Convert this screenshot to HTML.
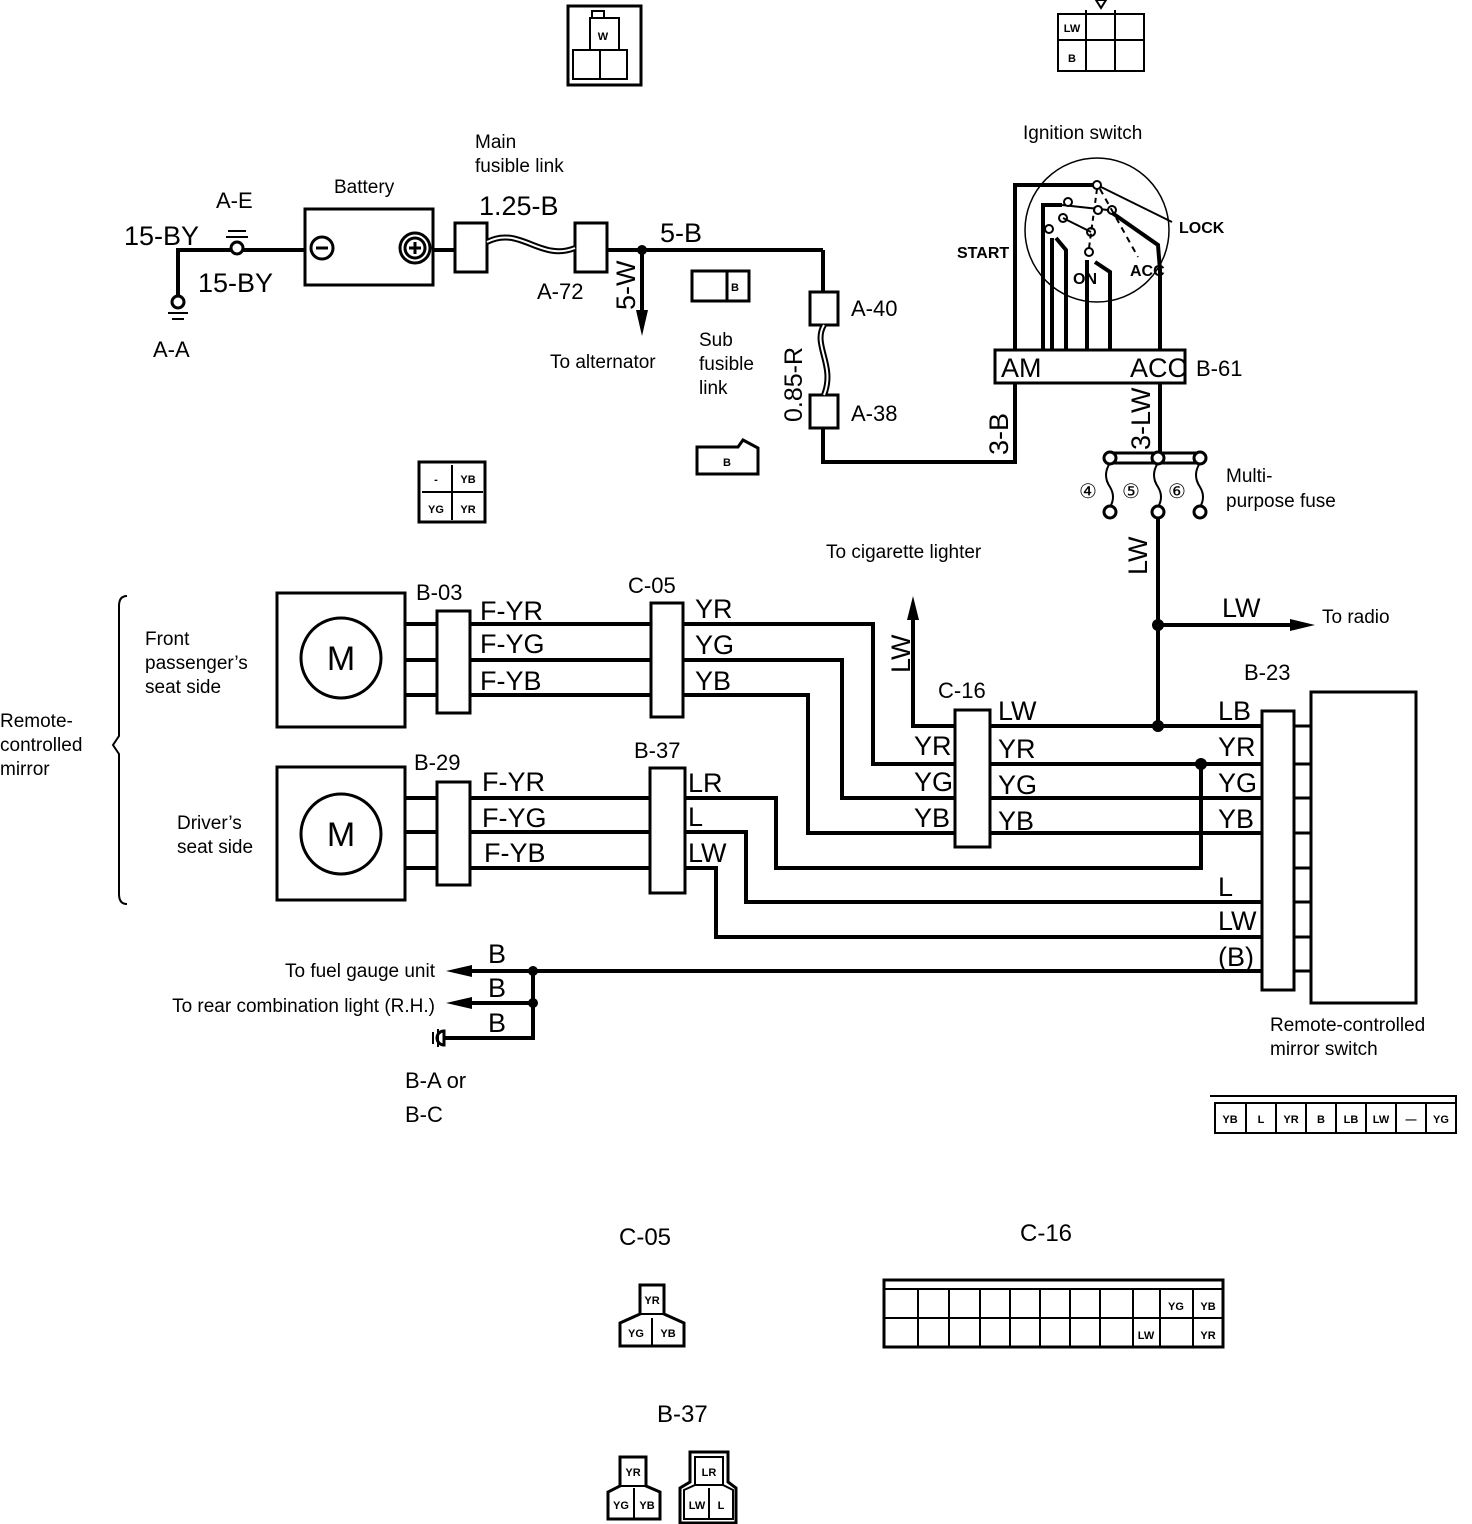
<!DOCTYPE html>
<html><head><style>
html,body{margin:0;padding:0;background:#fff}
svg{display:block}
text{font-family:"Liberation Sans",sans-serif;fill:#000}
.w{font-size:27px}
.s{font-size:19px}
.t{font-size:11px;font-weight:bold}
</style></head><body>
<svg width="1472" height="1524" viewBox="0 0 1472 1524" xmlns="http://www.w3.org/2000/svg">
<g fill="none" stroke="#000" stroke-width="4">
<polyline points="178,300 178,250 305,250"/>
<line x1="433" y1="250" x2="455" y2="250"/>
<line x1="607" y1="250" x2="823" y2="250"/>
<polyline points="823,250 823,292"/>
<line x1="642" y1="250" x2="642" y2="312"/>
<polyline points="823,428 823,462 1015,462 1015,185 1097,185"/>
<line x1="1160" y1="383" x2="1160" y2="458"/>
<polyline points="1043,350 1043,205 1062,205"/>
<line x1="1052" y1="238" x2="1052" y2="350"/>
<polyline points="1056,238 1066,250 1066,350"/>
<line x1="1087" y1="260" x2="1087" y2="350"/>
<polyline points="1095,262 1110,272 1110,350"/>
<polyline points="1108,210 1158,245 1160,270 1160,350"/>
<line x1="1158" y1="512" x2="1158" y2="726"/>
<line x1="1158" y1="625" x2="1298" y2="625"/>
<line x1="405" y1="624" x2="651" y2="624"/><line x1="405" y1="660" x2="651" y2="660"/><line x1="405" y1="695" x2="651" y2="695"/>
<line x1="405" y1="798" x2="650" y2="798"/><line x1="405" y1="832" x2="650" y2="832"/><line x1="405" y1="868" x2="650" y2="868"/>
<polyline points="683,624 873,624 873,764 955,764"/>
<polyline points="683,660 842,660 842,798 955,798"/>
<polyline points="683,695 808,695 808,833 955,833"/>
<polyline points="913,615 913,726 955,726"/>
<line x1="990" y1="726" x2="1262" y2="726"/>
<line x1="990" y1="764" x2="1262" y2="764"/>
<line x1="990" y1="798" x2="1262" y2="798"/>
<line x1="990" y1="833" x2="1262" y2="833"/>
<polyline points="1201,764 1201,868 776,868 776,798 685,798"/>
<polyline points="685,832 746,832 746,902 1262,902"/>
<polyline points="685,868 716,868 716,937 1262,937"/>
<line x1="470" y1="971" x2="1262" y2="971"/>
<polyline points="533,971 533,1038 444,1038"/>
<line x1="470" y1="1003" x2="533" y2="1003"/>
<g stroke-width="3">
<line x1="1294" y1="726" x2="1311" y2="726"/><line x1="1294" y1="764" x2="1311" y2="764"/><line x1="1294" y1="798" x2="1311" y2="798"/><line x1="1294" y1="833" x2="1311" y2="833"/><line x1="1294" y1="868" x2="1311" y2="868"/><line x1="1294" y1="902" x2="1311" y2="902"/><line x1="1294" y1="937" x2="1311" y2="937"/><line x1="1294" y1="971" x2="1311" y2="971"/>
</g>
</g>
<g fill="#000">
<polygon points="636,310 648,310 642,336"/>
<polygon points="907,620 919,620 913,596"/>
<polygon points="1290,619 1290,631 1315,625"/>
<polygon points="472,965 472,977 446,971"/>
<polygon points="472,997 472,1009 446,1003"/>
<circle cx="642" cy="250" r="5"/><circle cx="1158" cy="625" r="6"/><circle cx="1158" cy="726" r="6"/><circle cx="1201" cy="764" r="6"/><circle cx="533" cy="971" r="5"/><circle cx="533" cy="1003" r="5"/>
</g>
<g fill="#fff" stroke="#000" stroke-width="3">
<rect x="305" y="209" width="128" height="76"/>
<circle cx="322" cy="248" r="11"/>
<circle cx="415" cy="248" r="15"/><circle cx="415" cy="248" r="10"/>
<rect x="455" y="223" width="32" height="49"/>
<rect x="575" y="223" width="32" height="49"/>
<path d="M487,242 C520,225 540,262 575,248" fill="none" stroke-width="6"/>
<path d="M487,242 C520,225 540,262 575,248" fill="none" stroke="#fff" stroke-width="2"/>
<circle cx="237" cy="248" r="6"/>
<rect x="810" y="292" width="28" height="33"/>
<rect x="810" y="395" width="28" height="33"/>
<path d="M824,325 C812,345 836,365 824,395" fill="none" stroke-width="6"/>
<path d="M824,325 C812,345 836,365 824,395" fill="none" stroke="#fff" stroke-width="2"/>
<rect x="692" y="271" width="57" height="30"/><line x1="727" y1="271" x2="727" y2="301"/>
<path d="M697,447 L738,447 L743,440 L758,448 L758,474 L697,474 Z"/>
<circle cx="1097" cy="230" r="72" fill="none" stroke-width="1.5"/>
<rect x="995" y="350" width="190" height="33"/>
<rect x="1110" y="453" width="90" height="10"/>
<circle cx="1110" cy="458" r="6"/><circle cx="1158" cy="458" r="6"/><circle cx="1200" cy="458" r="6"/>
<circle cx="1110" cy="512" r="6"/><circle cx="1158" cy="512" r="6"/><circle cx="1200" cy="512" r="6"/>
<rect x="277" y="593" width="128" height="134"/><circle cx="341" cy="658" r="40"/>
<rect x="277" y="767" width="128" height="133"/><circle cx="341" cy="834" r="40"/>
<rect x="437" y="611" width="33" height="102"/>
<rect x="651" y="603" width="32" height="114"/>
<rect x="437" y="782" width="33" height="103"/>
<rect x="650" y="768" width="35" height="125"/>
<rect x="955" y="710" width="35" height="137"/>
<rect x="1262" y="711" width="32" height="279"/>
<rect x="1311" y="692" width="105" height="311"/>
<circle cx="178" cy="302" r="6"/>
<path d="M444,1031 a7,7 0 1 0 0,14 z" fill="none"/>
</g>
<g fill="none" stroke="#000" stroke-width="3">
<line x1="316" y1="248" x2="328" y2="248"/>
<line x1="409" y1="248" x2="421" y2="248"/><line x1="415" y1="242" x2="415" y2="254"/>
</g>
<g fill="none" stroke="#000" stroke-width="2">
<line x1="1097" y1="185" x2="1172" y2="222"/>
<line x1="1062" y1="205" x2="1108" y2="210"/>
<circle cx="1097" cy="185" r="4" fill="#fff"/><circle cx="1068" cy="202" r="4" fill="#fff"/><circle cx="1098" cy="210" r="4" fill="#fff"/><circle cx="1112" cy="210" r="4" fill="#fff"/><circle cx="1063" cy="218" r="4" fill="#fff"/><circle cx="1049" cy="229" r="4" fill="#fff"/><circle cx="1091" cy="232" r="4" fill="#fff"/><circle cx="1089" cy="252" r="4" fill="#fff"/>
<line x1="1097" y1="189" x2="1089" y2="248" stroke-dasharray="5,4"/>
<line x1="1100" y1="189" x2="1138" y2="257" stroke-dasharray="6,5"/>
<line x1="1063" y1="218" x2="1091" y2="232"/>
<path d="M127,596 q-8,0 -8,10 v130 l-6,9 6,9 v140 q0,10 8,10"/>
<line x1="228" y1="231" x2="246" y2="231"/><line x1="226" y1="237" x2="248" y2="237"/>
<line x1="168" y1="313" x2="188" y2="313"/><line x1="172" y1="319" x2="184" y2="319"/>
<line x1="433" y1="1032" x2="433" y2="1044"/><line x1="438" y1="1029" x2="438" y2="1047"/>
<path d="M1110,463 q-8,12 0,24 q6,10 0,20"/><path d="M1158,463 q-8,12 0,24 q6,10 0,20"/><path d="M1200,463 q-8,12 0,24 q6,10 0,20"/>
</g>
<g fill="#fff" stroke="#000" stroke-width="2">
<rect x="568" y="6" width="73" height="79" stroke-width="3"/>
<rect x="590" y="18" width="29" height="33"/><rect x="592" y="11" width="12" height="7"/>
<rect x="573" y="50" width="27" height="29"/><rect x="600" y="50" width="27" height="29"/>
<path d="M1058,14 h86 v57 h-86 z"/><line x1="1086" y1="10" x2="1086" y2="71"/><line x1="1115" y1="10" x2="1115" y2="71"/><line x1="1058" y1="40" x2="1144" y2="40"/>
<polygon points="1096,0 1106,0 1101,8"/>
<path d="M419,462 h66 v60 h-66 z" stroke-width="3"/><line x1="452" y1="465" x2="452" y2="520"/><line x1="422" y1="492" x2="483" y2="492"/>
<path d="M1215,1103 h241 v30 h-241 z"/><path d="M1210,1096 h246 v37" fill="none"/>
<line x1="1246" y1="1103" x2="1246" y2="1133"/><line x1="1276" y1="1103" x2="1276" y2="1133"/><line x1="1306" y1="1103" x2="1306" y2="1133"/><line x1="1336" y1="1103" x2="1336" y2="1133"/><line x1="1366" y1="1103" x2="1366" y2="1133"/><line x1="1396" y1="1103" x2="1396" y2="1133"/><line x1="1426" y1="1103" x2="1426" y2="1133"/>
<path d="M640,1285 h24 v29 l20,9 v23 h-64 v-23 l20,-9 z" stroke-width="3"/><line x1="640" y1="1314" x2="664" y2="1314"/><line x1="652" y1="1318" x2="652" y2="1346"/>
<path d="M620,1457 h26 v29 l14,6 v27 h-52 v-27 l12,-6 z" stroke-width="3"/><line x1="620" y1="1486" x2="646" y2="1486"/><line x1="634" y1="1488" x2="634" y2="1519"/>
<path d="M690,1452 h38 v30 l8,6 v35 h-56 v-35 l10,-6 z" stroke-width="3"/><path d="M695,1457 h28 v28 l10,5 v29 h-49 v-29 l11,-5 z"/><line x1="695" y1="1485" x2="723" y2="1485"/><line x1="709" y1="1488" x2="709" y2="1519"/>
<path d="M884,1280 h339 v67 h-339 z" stroke-width="3"/><line x1="884" y1="1289" x2="1223" y2="1289"/><line x1="884" y1="1318" x2="1223" y2="1318"/>
<line x1="918" y1="1289" x2="918" y2="1347"/><line x1="949" y1="1289" x2="949" y2="1347"/><line x1="980" y1="1289" x2="980" y2="1347"/><line x1="1010" y1="1289" x2="1010" y2="1347"/><line x1="1040" y1="1289" x2="1040" y2="1347"/><line x1="1070" y1="1289" x2="1070" y2="1347"/><line x1="1100" y1="1289" x2="1100" y2="1347"/><line x1="1133" y1="1289" x2="1133" y2="1347"/><line x1="1160" y1="1289" x2="1160" y2="1347"/><line x1="1193" y1="1289" x2="1193" y2="1347"/>
</g>
<g class="t" text-anchor="middle">
<text x="603" y="40">W</text>
<text x="1072" y="32">LW</text><text x="1072" y="62">B</text>
<text x="735" y="291">B</text><text x="727" y="466">B</text>
<text x="436" y="483">-</text><text x="468" y="483">YB</text><text x="436" y="513">YG</text><text x="468" y="513">YR</text>
<text x="1230" y="1123">YB</text><text x="1261" y="1123">L</text><text x="1291" y="1123">YR</text><text x="1321" y="1123">B</text><text x="1351" y="1123">LB</text><text x="1381" y="1123">LW</text><text x="1411" y="1123">—</text><text x="1441" y="1123">YG</text>
<text x="652" y="1304">YR</text><text x="636" y="1337">YG</text><text x="668" y="1337">YB</text>
<text x="633" y="1476">YR</text><text x="621" y="1509">YG</text><text x="647" y="1509">YB</text>
<text x="709" y="1476">LR</text><text x="697" y="1509">LW</text><text x="721" y="1509">L</text>
<text x="1176" y="1310">YG</text><text x="1208" y="1310">YB</text><text x="1146" y="1339">LW</text><text x="1208" y="1339">YR</text>
</g>
<g class="w">
<text x="124" y="245">15-BY</text><text x="198" y="292">15-BY</text>
<text x="479" y="215">1.25-B</text><text x="660" y="242">5-B</text>
<text x="480" y="620">F-YR</text><text x="480" y="653">F-YG</text><text x="480" y="690">F-YB</text>
<text x="695" y="618">YR</text><text x="695" y="654">YG</text><text x="695" y="690">YB</text>
<text x="482" y="791">F-YR</text><text x="482" y="827">F-YG</text><text x="484" y="862">F-YB</text>
<text x="688" y="792">LR</text><text x="688" y="826">L</text><text x="688" y="862">LW</text>
<text x="914" y="755">YR</text><text x="914" y="791">YG</text><text x="914" y="827">YB</text>
<text x="998" y="720">LW</text><text x="998" y="758">YR</text><text x="998" y="794">YG</text><text x="998" y="830">YB</text>
<text x="1218" y="720">LB</text><text x="1218" y="756">YR</text><text x="1218" y="792">YG</text><text x="1218" y="828">YB</text>
<text x="1218" y="896">L</text><text x="1218" y="930">LW</text><text x="1218" y="966">(B)</text>
<text x="1222" y="617">LW</text>
<text x="488" y="963">B</text><text x="488" y="997">B</text><text x="488" y="1032">B</text>
<text x="1001" y="377">AM</text><text x="1130" y="377">ACC</text>
<text x="341" y="670" font-size="34" text-anchor="middle">M</text><text x="341" y="846" font-size="34" text-anchor="middle">M</text>
<text transform="translate(635,310) rotate(-90)">5-W</text>
<text transform="translate(802,422) rotate(-90)" font-size="25">0.85-R</text>
<text transform="translate(1008,455) rotate(-90)">3-B</text>
<text transform="translate(1150,450) rotate(-90)">3-LW</text>
<text transform="translate(1147,575) rotate(-90)">LW</text>
<text transform="translate(910,673) rotate(-90)">LW</text>
</g>
<g class="s">
<text x="216" y="208" font-size="22">A-E</text>
<text x="153" y="357" font-size="22">A-A</text>
<text x="334" y="193">Battery</text>
<text x="475" y="148">Main</text><text x="475" y="172">fusible link</text>
<text x="537" y="299" font-size="22">A-72</text>
<text x="550" y="368">To alternator</text>
<text x="699" y="346">Sub</text><text x="699" y="370">fusible</text><text x="699" y="394">link</text>
<text x="851" y="316" font-size="22">A-40</text><text x="851" y="421" font-size="22">A-38</text>
<text x="1023" y="139">Ignition switch</text>
<text x="1196" y="376" font-size="22">B-61</text>
<text x="957" y="258" font-size="16" font-weight="bold">START</text>
<text x="1179" y="233" font-size="16" font-weight="bold">LOCK</text>
<text x="1073" y="284" font-size="16" font-weight="bold">ON</text>
<text x="1130" y="276" font-size="16" font-weight="bold">ACC</text>
<text x="1079" y="498" font-size="20">④</text><text x="1122" y="498" font-size="20">⑤</text><text x="1168" y="498" font-size="20">⑥</text>
<text x="1226" y="482">Multi-</text><text x="1226" y="507">purpose fuse</text>
<text x="826" y="558">To cigarette lighter</text>
<text x="1322" y="623">To radio</text>
<text x="416" y="600" font-size="22">B-03</text><text x="628" y="593" font-size="22">C-05</text>
<text x="414" y="770" font-size="22">B-29</text><text x="634" y="758" font-size="22">B-37</text>
<text x="938" y="698" font-size="22">C-16</text><text x="1244" y="680" font-size="22">B-23</text>
<text x="145" y="645">Front</text><text x="145" y="669">passenger’s</text><text x="145" y="693">seat side</text>
<text x="177" y="829">Driver’s</text><text x="177" y="853">seat side</text>
<text x="0" y="727">Remote-</text><text x="0" y="751">controlled</text><text x="0" y="775">mirror</text>
<text x="435" y="977" text-anchor="end">To fuel gauge unit</text>
<text x="435" y="1012" text-anchor="end">To rear combination light (R.H.)</text>
<text x="405" y="1088" font-size="22">B-A or</text><text x="405" y="1122" font-size="22">B-C</text>
<text x="1270" y="1031">Remote-controlled</text><text x="1270" y="1055">mirror switch</text>
<text x="619" y="1245" font-size="24">C-05</text>
<text x="1020" y="1241" font-size="24">C-16</text>
<text x="657" y="1422" font-size="24">B-37</text>
</g>
</svg>
</body></html>
